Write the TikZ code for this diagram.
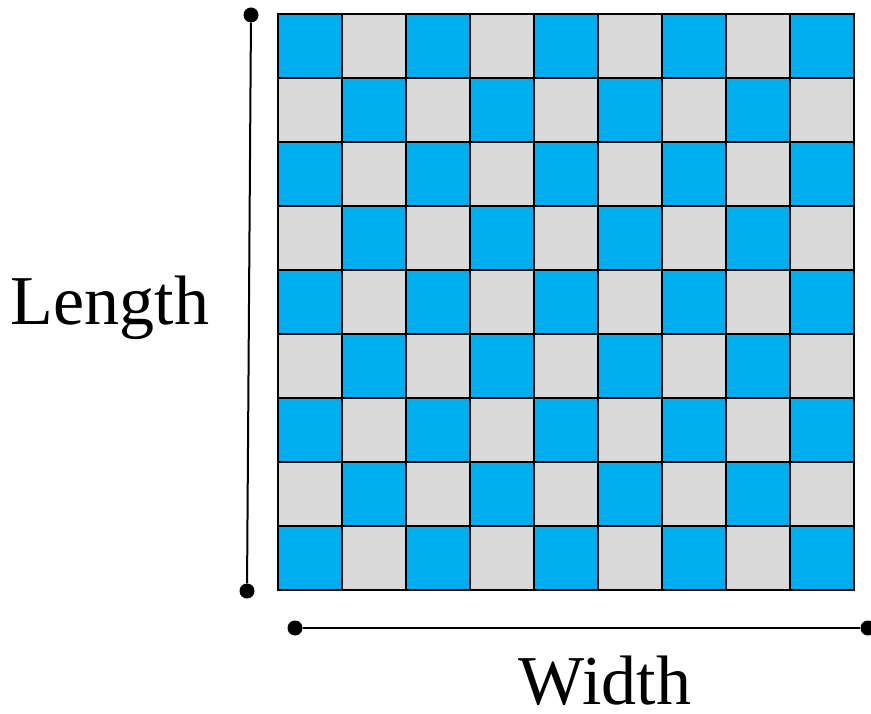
\documentclass[tikz,border=0pt]{standalone}
\usepackage{fontspec}
\setmainfont{Liberation Serif}
\usetikzlibrary{positioning}

\definecolor{cellblue}{HTML}{00AEEF}
\definecolor{cellgray}{HTML}{D9D9D9}

\begin{document}
\begin{tikzpicture}[x=1pt,y=-1pt,
    dimline/.style={line width=2pt, black},
    dimdot/.style={circle, fill=black, inner sep=0pt, minimum size=15pt},
    dimlabel/.style={font=\fontsize{70}{76}\selectfont, anchor=base, inner sep=0pt}]
\useasboundingbox (0,0) rectangle (871,714);

% Grid of 9x9 cells
\def\cell{64}
\def\gridx{278}
\def\gridy{14}

\foreach \i in {0,...,8} {
  \foreach \j in {0,...,8} {
    \pgfmathparse{int(mod(\i+\j,2))}
    \ifnum\pgfmathresult=0
      \def\cellcol{cellblue}
    \else
      \def\cellcol{cellgray}
    \fi
    \filldraw[fill=\cellcol, draw=black, line width=2.4pt]
      (\gridx+\i*\cell,\gridy+\j*\cell) rectangle ++(\cell,\cell);
  }
}

% Length dimension
\node[dimdot] (lentop) at (251,15) {};
\node[dimdot] (lenbot) at (247,591) {};
\draw[dimline] (lentop) -- (lenbot);
\node[dimlabel] (lenlabel) at (110,325) {Length};

% Width dimension
\node[dimdot] (widleft) at (295,628) {};
\node[dimdot] (widright) at (868,628) {};
\draw[dimline] (widleft) -- (widright);
\node[dimlabel] (widlabel) at (605,704) {Width};
\end{tikzpicture}
\end{document}
